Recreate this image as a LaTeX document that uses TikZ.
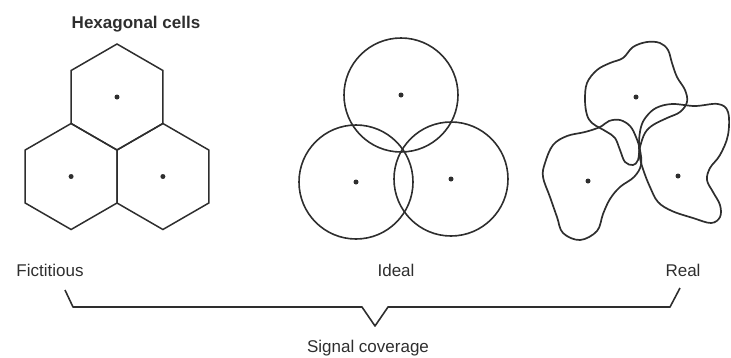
\documentclass[tikz,border=0pt]{standalone}
\usepackage{fontspec}
\setmainfont{Liberation Sans}
\usepackage{tikz}
\usetikzlibrary{shapes.geometric, positioning, calc}
\definecolor{inkgray}{HTML}{2E2E2E}

\tikzset{
  cell/.style={draw=inkgray, line width=1.5pt, regular polygon, regular polygon sides=6,
               shape border rotate=30, minimum size=106pt, inner sep=0pt, outer sep=0pt},
  zone/.style={draw=inkgray, line width=1.6pt, circle, minimum size=114pt, inner sep=0pt},
  site/.style={fill=inkgray, circle, minimum size=5pt, inner sep=0pt},
  blob/.style={draw=inkgray, line width=1.7pt, line join=round},
  lbl/.style={text=inkgray, font=\fontsize{17}{19}\selectfont, inner sep=0pt}
}

\begin{document}
\begin{tikzpicture}[x=1pt, y=-1pt]
  \useasboundingbox (0,0) rectangle (731,357);

  % fictitious: hexagonal cells
  \node[cell] (hexT) at (117,97) {};
  \node[cell] (hexL) at (71.1,176.5) {};
  \node[cell] (hexR) at (162.9,176.5) {};
  \foreach \c in {hexT, hexL, hexR}
    \node[site] (dot-\c) at (\c.center) {};
  \node[lbl, font=\fontsize{17}{19}\selectfont\bfseries] (title) at (136,24) {Hexagonal cells};

  % ideal: circles
  \node[zone] (cirT) at (401,95) {};
  \node[zone] (cirL) at (356,182) {};
  \node[zone] (cirR) at (451,179) {};
  \foreach \c in {cirT, cirL, cirR}
    \node[site] (dot-\c) at (\c.center) {};

  % real: irregular coverage
  \draw[blob] plot[smooth cycle, tension=0.6] coordinates {
    (585,100) (587,83) (597,70) (610,63) (623,58) (633,47) (647,42) (660,43)
    (668,50) (672,63) (677,77) (685,90) (687,102) (680,112) (667,118) (653,125)
    (645,133) (640,147) (638,160) (633,165) (625,162) (620,150) (615,138)
    (607,132) (600,128) (592,123) (587,115)};
  \draw[blob] plot[smooth cycle, tension=0.6] coordinates {
    (545,163) (543,177) (550,197) (557,217) (563,233) (580,240) (597,231)
    (603,214) (610,199) (620,187) (634,177) (641,165) (640,150) (636,137)
    (630,126) (620,120) (609,121) (600,127) (585,132) (567,136) (553,145)};
  \draw[blob] plot[smooth cycle, tension=0.6] coordinates {
    (646,117) (656,108) (672,104) (695,106) (718,104) (728,112) (728,135)
    (720,155) (710,168) (707,180) (713,192) (720,205) (720,217) (711,223)
    (693,218) (672,211) (658,202) (650,187) (644,172) (640,158) (639,142)
    (641,127)};
  \node[site] (dotT) at (636,97) {};
  \node[site] (dotL) at (588,181) {};
  \node[site] (dotR) at (678,176) {};

  % labels and brace
  \node[lbl] (fict) at (50,270) {Fictitious};
  \node[lbl] (ideal) at (396,270) {Ideal};
  \node[lbl] (real) at (683,270) {Real};
  \coordinate (braceL) at (65,290);
  \coordinate (braceR) at (680,288);
  \coordinate (tip) at (375,326);
  \draw[inkgray, line width=1.6pt, line join=round]
    (braceL) -- (73,307) -- (362,307) -- (tip) -- (388,307) -- (670,307) -- (braceR);
  \node[lbl] (signal) at (368,348) {Signal coverage};
\end{tikzpicture}
\end{document}
